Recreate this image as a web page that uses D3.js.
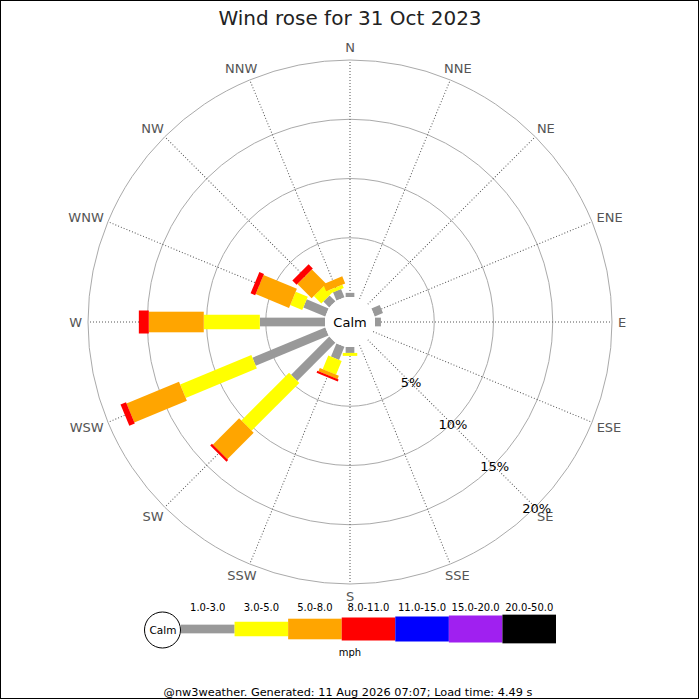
<!DOCTYPE html>
<html>
<head>
<meta charset="utf-8">
<script src="https://cdn.jsdelivr.net/npm/d3@7"></script>
<style>
  body { margin: 0; background: #fff; }
  svg { font-family: "DejaVu Sans", sans-serif; }
</style>
</head>
<body>
<svg width="700" height="700"></svg>
<script>
// Data (percent of time, per direction and speed band)
var directions = ["N", "NNE", "NE", "ENE", "E", "ESE", "SE", "SSE",
                  "S", "SSW", "SW", "WSW", "W", "WNW", "NW", "NNW"];
var bands = ["1.0-3.0", "3.0-5.0", "5.0-8.0", "8.0-11.0", "11.0-15.0", "15.0-20.0", "20.0-50.0"];
var bandColors = ["#999999", "#ffff00", "#ffa500", "#ff0000", "#0000ff", "#a020f0", "#000000"];

var speed1to3   = [0.35, 0, 0, 0.75, 0.5, 0, 0, 0, 0.5, 1.2, 4.55, 6.65, 5.5, 2.0, 0.7, 0.75];
var speed3to5   = [0, 0, 0, 0, 0, 0, 0, 0, 0.25, 1.25, 5.7, 6.5, 4.73, 1.1, 0.9, 0.3];
var speed5to8   = [0, 0, 0, 0, 0, 0, 0, 0, 0, 0.3, 3.15, 4.8, 4.64, 3.05, 1.7, 0.65];
var speed8to11  = [0, 0, 0, 0, 0, 0, 0, 0, 0, 0.17, 0.2, 0.5, 0.84, 0.42, 0.5, 0];
var speed11to15 = [0, 0, 0, 0, 0, 0, 0, 0, 0, 0, 0, 0, 0, 0, 0, 0];
var speed15to20 = [0, 0, 0, 0, 0, 0, 0, 0, 0, 0, 0, 0, 0, 0, 0, 0];
var speed20to50 = [0, 0, 0, 0, 0, 0, 0, 0, 0, 0, 0, 0, 0, 0, 0, 0];

var ringTicks = [5, 10, 15, 20];

var titleText = "Wind rose for 31 Oct 2023";
var footerText = "@nw3weather. Generated: 11 Aug 2026 07:07; Load time: 4.49 s";

// Set up
var svg = d3.select("svg");
var cx = 350, cy = 322;
var calmR = 25, outerR = 262;
// bar thickness for each band
var bandWidth = [8.7, 14.5, 20.6, 23, 25, 27, 28.7];

var rScale = d3.scaleLinear().domain([0, 20]).range([calmR, outerR]);
var angleScale = d3.scaleLinear().domain([0, directions.length]).range([0, 360]);
var rad = a => a * Math.PI / 180;

// border
svg.append("rect")
    .attr("x", 0.5).attr("y", 0.5)
    .attr("width", 698).attr("height", 698)
    .attr("fill", "none").attr("stroke", "#000").attr("stroke-width", 1);

svg.append("text")
    .attr("x", 350).attr("y", 25)
    .attr("text-anchor", "middle")
    .attr("font-size", 20)
    .attr("fill", "#222")
    .text(titleText);

var rose = svg.append("g").attr("transform", `translate(${cx},${cy})`);

// rings
rose.selectAll(".ring")
    .data(ringTicks)
    .enter().append("circle")
    .attr("r", d => rScale(d))
    .attr("fill", "none")
    .attr("stroke", "#aaa")
    .attr("stroke-width", 1);

// spokes
rose.selectAll(".spoke")
    .data(directions)
    .enter().append("line")
    .attr("transform", (d, i) => `rotate(${angleScale(i)})`)
    .attr("x1", 0).attr("x2", 0)
    .attr("y1", -calmR).attr("y2", -outerR)
    .attr("stroke", "#555")
    .attr("stroke-width", 1)
    .attr("stroke-dasharray", "1,2");

// direction labels: box pushed outward from a point just past the ring
var labelR = 268;
rose.selectAll(".dirLabel")
    .data(directions)
    .enter().append("text")
    .attr("text-anchor", "middle")
    .attr("dy", "0.36em")
    .attr("font-size", 13)
    .attr("fill", "#555")
    .text(d => d)
    .each(function(d, i) {
        var a = rad(angleScale(i));
        var w = this.getComputedTextLength();
        var px = labelR * Math.sin(a), py = -labelR * Math.cos(a);
        d3.select(this)
            .attr("x", px + w / 2 * Math.sin(a))
            .attr("y", py - 6.5 * Math.cos(a));
    });

// stacked bars
var table = directions.map(function(dir, i) {
    return {
        dir: dir,
        "1.0-3.0": speed1to3[i],
        "3.0-5.0": speed3to5[i],
        "5.0-8.0": speed5to8[i],
        "8.0-11.0": speed8to11[i],
        "11.0-15.0": speed11to15[i],
        "15.0-20.0": speed15to20[i],
        "20.0-50.0": speed20to50[i]
    };
});
var stacked = d3.stack().keys(bands)(table);

stacked.forEach(function(layer, b) {
    rose.selectAll(".bar" + b)
        .data(layer)
        .enter().append("rect")
        .filter(d => d[1] - d[0] > 0)
        .attr("transform", d => `rotate(${angleScale(directions.indexOf(d.data.dir))})`)
        .attr("x", -bandWidth[b] / 2)
        .attr("width", bandWidth[b])
        .attr("y", d => -rScale(d[1]))
        .attr("height", d => rScale(d[1]) - rScale(d[0]))
        .attr("fill", bandColors[b]);
});

// calm circle
rose.append("circle").attr("r", calmR).attr("fill", "#fff");
rose.append("text")
    .attr("y", 0).attr("dy", "0.36em")
    .attr("text-anchor", "middle")
    .attr("font-size", 13)
    .attr("fill", "#000")
    .text("Calm");

// percentage labels along SE
rose.selectAll(".pct")
    .data(ringTicks)
    .enter().append("text")
    .attr("x", d => (rScale(d) + 2) * Math.SQRT1_2)
    .attr("y", d => (rScale(d) + 1) * Math.SQRT1_2)
    .attr("dy", "0.36em")
    .attr("text-anchor", "middle")
    .attr("font-size", 13)
    .attr("fill", "#000")
    .text(d => d + "%");

// legend
var legendY = 629;
var legendX = d3.scaleBand().domain(bands).range([181, 556]);
var legend = svg.append("g");

legend.append("circle")
    .attr("cx", 162.5).attr("cy", 630).attr("r", 18)
    .attr("fill", "#fff").attr("stroke", "#000").attr("stroke-width", 1);
legend.append("text")
    .attr("x", 163).attr("y", 630).attr("dy", "0.36em")
    .attr("text-anchor", "middle").attr("font-size", 10.5)
    .text("Calm");

legend.selectAll(".lbar")
    .data(bands)
    .enter().append("rect")
    .attr("x", d => legendX(d))
    .attr("width", legendX.bandwidth())
    .attr("y", (d, i) => legendY - bandWidth[i] / 2)
    .attr("height", (d, i) => bandWidth[i])
    .attr("fill", (d, i) => bandColors[i]);

legend.selectAll(".ltext")
    .data(bands)
    .enter().append("text")
    .attr("x", d => legendX(d) + legendX.bandwidth() / 2)
    .attr("y", 611)
    .attr("text-anchor", "middle")
    .attr("font-size", 10)
    .attr("fill", "#000")
    .text(d => d);

legend.append("text")
    .attr("x", 350).attr("y", 656)
    .attr("text-anchor", "middle").attr("font-size", 10)
    .text("mph");

svg.append("text")
    .attr("x", 348).attr("y", 696)
    .attr("text-anchor", "middle")
    .attr("font-size", 11.3)
    .attr("fill", "#000")
    .text(footerText);
</script>
</body>
</html>
